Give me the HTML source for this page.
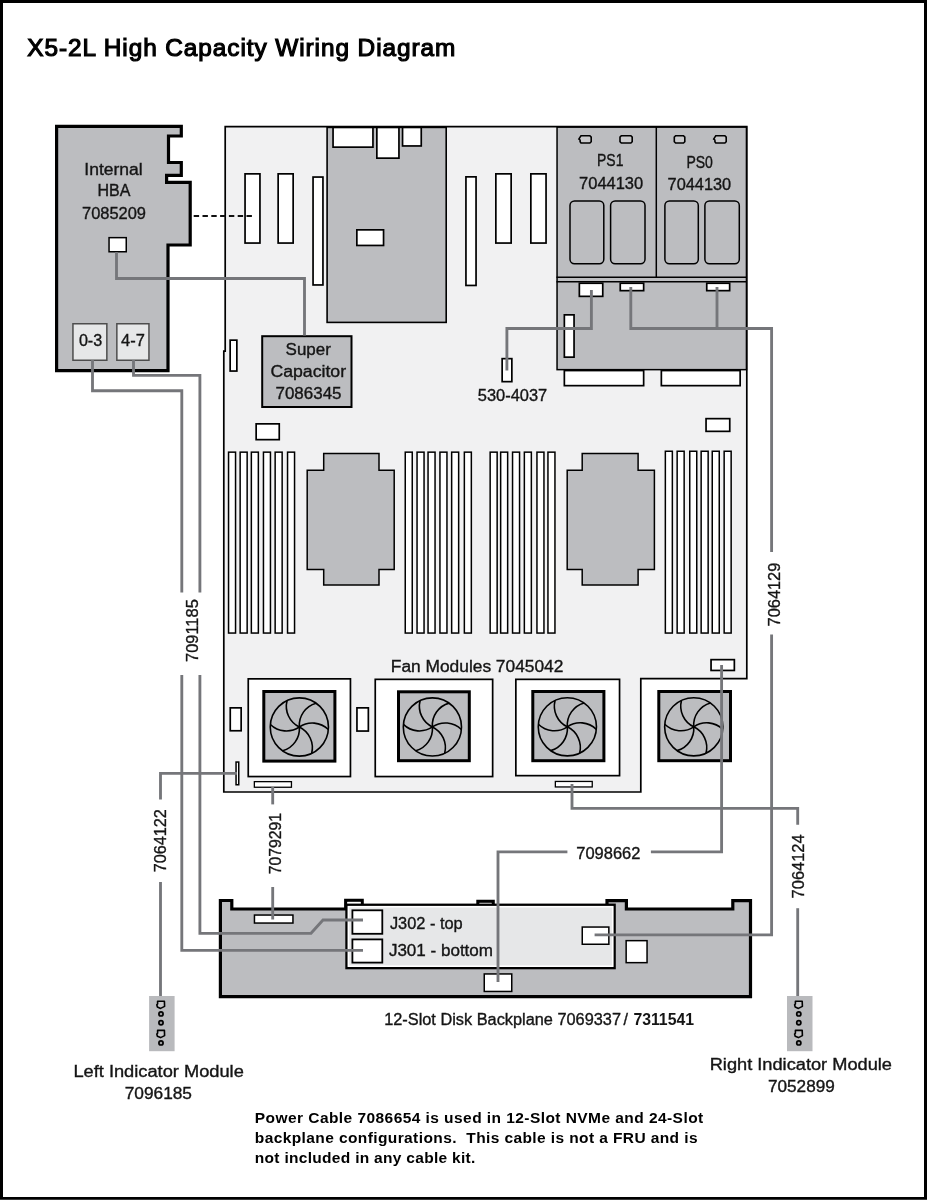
<!DOCTYPE html><html><head><meta charset="utf-8"><style>html,body{margin:0;padding:0;background:#fff}svg{display:block;will-change:transform}</style></head><body>
<svg width="927" height="1200" viewBox="0 0 927 1200" font-family='"Liberation Sans", sans-serif'>
<rect x="0" y="0" width="927" height="1200" fill="#fff"/>
<text x="27.3" y="55.6" font-size="24.4" font-weight="bold" text-anchor="start" fill="#000" textLength="428" lengthAdjust="spacing" style="font-weight:normal" stroke="#000" stroke-width="1.15">X5-2L High Capacity Wiring Diagram</text>
<polygon points="56.60,126.40 181.30,126.40 181.30,136.00 168.50,136.00 168.50,162.50 181.30,162.50 181.30,175.40 166.60,175.40 166.60,182.40 190.20,182.40 190.20,245.00 168.00,245.00 168.00,370.60 56.60,370.60" fill="#bcbdc0" stroke="#000" stroke-width="3.2" stroke-linejoin="miter"/>
<text x="84.3" y="174.6" font-size="16" font-weight="normal" text-anchor="start" fill="#151515" stroke="#151515" stroke-width="0.35" textLength="58.4" lengthAdjust="spacingAndGlyphs" >Internal</text>
<text x="113.9" y="195.9" font-size="16" font-weight="normal" text-anchor="middle" fill="#151515" stroke="#151515" stroke-width="0.35" >HBA</text>
<text x="82" y="218.9" font-size="16" font-weight="normal" text-anchor="start" fill="#151515" stroke="#151515" stroke-width="0.35" textLength="64" lengthAdjust="spacingAndGlyphs" >7085209</text>
<rect x="109.05" y="237.65" width="17.20" height="14.10" fill="#fff" stroke="#000" stroke-width="1.5" />
<rect x="72.95" y="323.75" width="33.90" height="36.50" fill="#e6e7e8" stroke="#4d4d4d" stroke-width="1.5" />
<rect x="116.85" y="323.75" width="32.10" height="36.50" fill="#e6e7e8" stroke="#4d4d4d" stroke-width="1.5" />
<text x="78.9" y="346" font-size="16" font-weight="normal" text-anchor="start" fill="#151515" stroke="#151515" stroke-width="0.35" textLength="23.3" lengthAdjust="spacingAndGlyphs" >0-3</text>
<text x="121.1" y="346" font-size="16" font-weight="normal" text-anchor="start" fill="#151515" stroke="#151515" stroke-width="0.35" textLength="23.8" lengthAdjust="spacingAndGlyphs" >4-7</text>
<polygon points="225.20,126.60 746.80,126.60 746.80,678.60 640.80,678.60 640.80,792.00 223.80,792.00 223.80,351.20 225.20,351.20" fill="#f1f1f2" stroke="#000" stroke-width="1.7" stroke-linejoin="miter"/>
<rect x="327.10" y="127.40" width="119.10" height="195.00" fill="#bcbdc0" stroke="#000" stroke-width="1.6" />
<rect x="333.05" y="127.45" width="39.90" height="19.70" fill="#fff" stroke="#000" stroke-width="1.7" />
<rect x="376.85" y="127.45" width="22.10" height="30.70" fill="#fff" stroke="#000" stroke-width="1.7" />
<rect x="402.55" y="127.45" width="18.70" height="18.50" fill="#fff" stroke="#000" stroke-width="1.7" />
<rect x="356.85" y="229.85" width="26.70" height="15.60" fill="#fff" stroke="#000" stroke-width="1.7" />
<rect x="245.05" y="173.85" width="14.90" height="69.20" fill="#fff" stroke="#000" stroke-width="1.7" />
<rect x="278.15" y="173.85" width="15.00" height="69.20" fill="#fff" stroke="#000" stroke-width="1.7" />
<rect x="313.05" y="177.05" width="9.90" height="107.90" fill="#fff" stroke="#000" stroke-width="1.7" />
<rect x="465.95" y="176.85" width="10.10" height="108.60" fill="#fff" stroke="#000" stroke-width="1.7" />
<rect x="495.85" y="173.85" width="15.30" height="69.20" fill="#fff" stroke="#000" stroke-width="1.7" />
<rect x="530.85" y="173.85" width="15.20" height="69.20" fill="#fff" stroke="#000" stroke-width="1.7" />
<line x1="193.7" y1="216" x2="252" y2="216" stroke="#111" stroke-width="1.9" stroke-dasharray="5.4,3.4"/>
<rect x="557.05" y="127.15" width="189.40" height="242.50" fill="#bcbdc0" stroke="#000" stroke-width="1.5" />
<line x1="656.3" y1="126.6" x2="656.3" y2="277.3" stroke="#000" stroke-width="1.5"/>
<line x1="556.5" y1="277.3" x2="747" y2="277.3" stroke="#000" stroke-width="1.5"/>
<line x1="556.5" y1="281.7" x2="747" y2="281.7" stroke="#000" stroke-width="1.5"/>
<path d="M581.00,135.80 L589.90,135.80 L591.20,137.10 L591.20,141.70 L589.90,143.00 L581.00,143.00 L580.10,141.70 L580.10,140.00 L578.90,139.00 L580.10,137.10 Z" fill="#c9c9cb" stroke="#000" stroke-width="1.6"/>
<path d="M621.30,135.80 L630.90,135.80 L632.20,137.10 L632.20,141.70 L630.90,143.00 L621.30,143.00 L620.00,141.70 L620.00,137.10 Z" fill="#c9c9cb" stroke="#000" stroke-width="1.6"/>
<path d="M675.60,135.80 L683.50,135.80 L684.80,137.10 L684.80,141.70 L683.50,143.00 L675.60,143.00 L674.30,141.70 L674.30,137.10 Z" fill="#c9c9cb" stroke="#000" stroke-width="1.6"/>
<path d="M715.80,135.80 L724.90,135.80 L726.20,137.10 L726.20,141.70 L724.90,143.00 L715.80,143.00 L714.90,141.70 L714.90,140.00 L713.70,139.00 L714.90,137.10 Z" fill="#c9c9cb" stroke="#000" stroke-width="1.6"/>
<rect x="570.00" y="200.9" width="33.80" height="62.8" rx="4.5" ry="4.5" fill="none" stroke="#000" stroke-width="1.5"/>
<rect x="610.60" y="200.9" width="34.40" height="62.8" rx="4.5" ry="4.5" fill="none" stroke="#000" stroke-width="1.5"/>
<rect x="664.90" y="200.9" width="33.40" height="62.8" rx="4.5" ry="4.5" fill="none" stroke="#000" stroke-width="1.5"/>
<rect x="704.90" y="200.9" width="34.40" height="62.8" rx="4.5" ry="4.5" fill="none" stroke="#000" stroke-width="1.5"/>
<text x="597" y="166.4" font-size="16" font-weight="normal" text-anchor="start" fill="#151515" stroke="#151515" stroke-width="0.35" textLength="26.4" lengthAdjust="spacingAndGlyphs" >PS1</text>
<text x="579.1" y="188.6" font-size="16" font-weight="normal" text-anchor="start" fill="#151515" stroke="#151515" stroke-width="0.35" textLength="64.1" lengthAdjust="spacingAndGlyphs" >7044130</text>
<text x="686.4" y="167.9" font-size="16" font-weight="normal" text-anchor="start" fill="#151515" stroke="#151515" stroke-width="0.35" textLength="26.5" lengthAdjust="spacingAndGlyphs" >PS0</text>
<text x="667.6" y="190.1" font-size="16" font-weight="normal" text-anchor="start" fill="#151515" stroke="#151515" stroke-width="0.35" textLength="63.6" lengthAdjust="spacingAndGlyphs" >7044130</text>
<rect x="579.35" y="283.25" width="23.40" height="13.10" fill="#fff" stroke="#000" stroke-width="1.7" />
<rect x="620.25" y="283.25" width="23.40" height="7.40" fill="#fff" stroke="#000" stroke-width="1.7" />
<rect x="706.75" y="283.25" width="22.90" height="7.40" fill="#fff" stroke="#000" stroke-width="1.7" />
<rect x="564.35" y="314.85" width="9.70" height="42.30" fill="#fff" stroke="#000" stroke-width="1.7" />
<rect x="564.35" y="370.55" width="79.30" height="15.10" fill="#fff" stroke="#000" stroke-width="1.7" />
<rect x="661.35" y="370.55" width="78.80" height="15.10" fill="#fff" stroke="#000" stroke-width="1.7" />
<rect x="502.15" y="358.65" width="9.70" height="23.00" fill="#fff" stroke="#000" stroke-width="1.7" />
<text x="477.8" y="400.7" font-size="16" font-weight="normal" text-anchor="start" fill="#151515" stroke="#151515" stroke-width="0.35" textLength="69.4" lengthAdjust="spacingAndGlyphs" >530-4037</text>
<rect x="230.15" y="340.15" width="6.70" height="30.90" fill="#fff" stroke="#000" stroke-width="1.7" />
<rect x="256.15" y="423.85" width="23.10" height="15.80" fill="#fff" stroke="#000" stroke-width="1.7" />
<rect x="706.05" y="418.65" width="23.70" height="12.70" fill="#fff" stroke="#000" stroke-width="1.7" />
<rect x="262.20" y="336.20" width="89.30" height="70.80" fill="#bcbdc0" stroke="#000" stroke-width="2" />
<text x="285.6" y="355.2" font-size="16" font-weight="normal" text-anchor="start" fill="#151515" stroke="#151515" stroke-width="0.35" textLength="45.3" lengthAdjust="spacingAndGlyphs" >Super</text>
<text x="270.4" y="376.8" font-size="16" font-weight="normal" text-anchor="start" fill="#151515" stroke="#151515" stroke-width="0.35" textLength="75.7" lengthAdjust="spacingAndGlyphs" >Capacitor</text>
<text x="275.5" y="398.9" font-size="16" font-weight="normal" text-anchor="start" fill="#151515" stroke="#151515" stroke-width="0.35" textLength="66" lengthAdjust="spacingAndGlyphs" >7086345</text>
<rect x="228.55" y="452.15" width="7.00" height="180.90" fill="#fff" stroke="#000" stroke-width="1.5" />
<rect x="240.15" y="452.15" width="7.00" height="180.90" fill="#fff" stroke="#000" stroke-width="1.5" />
<rect x="251.35" y="452.15" width="7.00" height="180.90" fill="#fff" stroke="#000" stroke-width="1.5" />
<rect x="263.45" y="452.15" width="7.00" height="180.90" fill="#fff" stroke="#000" stroke-width="1.5" />
<rect x="275.15" y="452.15" width="7.00" height="180.90" fill="#fff" stroke="#000" stroke-width="1.5" />
<rect x="287.55" y="452.15" width="7.00" height="180.90" fill="#fff" stroke="#000" stroke-width="1.5" />
<rect x="405.25" y="452.15" width="7.00" height="180.90" fill="#fff" stroke="#000" stroke-width="1.5" />
<rect x="417.05" y="452.15" width="7.00" height="180.90" fill="#fff" stroke="#000" stroke-width="1.5" />
<rect x="428.05" y="452.15" width="7.00" height="180.90" fill="#fff" stroke="#000" stroke-width="1.5" />
<rect x="439.95" y="452.15" width="7.00" height="180.90" fill="#fff" stroke="#000" stroke-width="1.5" />
<rect x="451.65" y="452.15" width="7.00" height="180.90" fill="#fff" stroke="#000" stroke-width="1.5" />
<rect x="464.35" y="452.15" width="7.00" height="180.90" fill="#fff" stroke="#000" stroke-width="1.5" />
<rect x="490.15" y="452.15" width="7.00" height="180.90" fill="#fff" stroke="#000" stroke-width="1.5" />
<rect x="500.65" y="452.15" width="7.00" height="180.90" fill="#fff" stroke="#000" stroke-width="1.5" />
<rect x="512.55" y="452.15" width="7.00" height="180.90" fill="#fff" stroke="#000" stroke-width="1.5" />
<rect x="524.35" y="452.15" width="7.00" height="180.90" fill="#fff" stroke="#000" stroke-width="1.5" />
<rect x="536.95" y="452.15" width="7.00" height="180.90" fill="#fff" stroke="#000" stroke-width="1.5" />
<rect x="547.95" y="452.15" width="7.00" height="180.90" fill="#fff" stroke="#000" stroke-width="1.5" />
<rect x="665.35" y="451.25" width="7.00" height="181.80" fill="#fff" stroke="#000" stroke-width="1.5" />
<rect x="677.15" y="451.25" width="7.00" height="181.80" fill="#fff" stroke="#000" stroke-width="1.5" />
<rect x="689.75" y="451.25" width="7.00" height="181.80" fill="#fff" stroke="#000" stroke-width="1.5" />
<rect x="701.15" y="451.25" width="7.00" height="181.80" fill="#fff" stroke="#000" stroke-width="1.5" />
<rect x="712.25" y="451.25" width="7.00" height="181.80" fill="#fff" stroke="#000" stroke-width="1.5" />
<rect x="724.15" y="451.25" width="7.00" height="181.80" fill="#fff" stroke="#000" stroke-width="1.5" />
<polygon points="323.70,453.60 379.00,453.60 379.00,470.20 394.20,470.20 394.20,569.60 379.00,569.60 379.00,585.10 323.70,585.10 323.70,569.60 307.20,569.60 307.20,470.20 323.70,470.20" fill="#bcbdc0" stroke="#000" stroke-width="1.5" stroke-linejoin="miter"/>
<polygon points="582.20,453.50 638.10,453.50 638.10,470.30 654.40,470.30 654.40,569.40 638.10,569.40 638.10,585.00 582.20,585.00 582.20,569.40 567.20,569.40 567.20,470.30 582.20,470.30" fill="#bcbdc0" stroke="#000" stroke-width="1.5" stroke-linejoin="miter"/>
<text x="390.8" y="671.6" font-size="16" font-weight="normal" text-anchor="start" fill="#151515" stroke="#151515" stroke-width="0.35" textLength="172.6" lengthAdjust="spacingAndGlyphs" >Fan Modules 7045042</text>
<rect x="248.25" y="678.85" width="102.20" height="97.70" fill="#fff" stroke="#000" stroke-width="1.7" />
<rect x="375.25" y="679.35" width="117.40" height="97.20" fill="#fff" stroke="#000" stroke-width="1.7" />
<rect x="515.85" y="679.35" width="103.70" height="96.30" fill="#fff" stroke="#000" stroke-width="1.7" />
<rect x="230.25" y="707.85" width="10.90" height="22.90" fill="#fff" stroke="#000" stroke-width="1.7" />
<rect x="356.95" y="707.85" width="11.40" height="23.20" fill="#fff" stroke="#000" stroke-width="1.7" />
<rect x="236.05" y="762.05" width="2.70" height="22.70" fill="#fff" stroke="#000" stroke-width="1.5" />
<rect x="254.35" y="781.65" width="37.10" height="5.60" fill="#fff" stroke="#000" stroke-width="1.3" />
<rect x="555.35" y="781.45" width="36.90" height="5.50" fill="#fff" stroke="#000" stroke-width="1.3" />
<rect x="711.05" y="659.65" width="23.30" height="10.80" fill="#fff" stroke="#000" stroke-width="1.7" />
<rect x="263.80" y="691.50" width="71.10" height="69.60" fill="#bcbdc0" stroke="#000" stroke-width="3" />
<circle cx="299.35" cy="727.00" r="29.1" fill="none" stroke="#000" stroke-width="1.6"/>
<path d="M299.35,727.00 A23,23 0 0 1 328.34,729.54" fill="none" stroke="#000" stroke-width="1.6"/>
<path d="M299.35,727.00 A23,23 0 0 1 311.65,753.37" fill="none" stroke="#000" stroke-width="1.6"/>
<path d="M299.35,727.00 A23,23 0 0 1 282.66,750.84" fill="none" stroke="#000" stroke-width="1.6"/>
<path d="M299.35,727.00 A23,23 0 0 1 270.36,724.46" fill="none" stroke="#000" stroke-width="1.6"/>
<path d="M299.35,727.00 A23,23 0 0 1 287.05,700.63" fill="none" stroke="#000" stroke-width="1.6"/>
<path d="M299.35,727.00 A23,23 0 0 1 316.04,703.16" fill="none" stroke="#000" stroke-width="1.6"/>
<rect x="398.50" y="691.80" width="70.80" height="68.90" fill="#bcbdc0" stroke="#000" stroke-width="3" />
<circle cx="432.40" cy="726.95" r="29.1" fill="none" stroke="#000" stroke-width="1.6"/>
<path d="M432.40,726.95 A23,23 0 0 1 461.39,729.49" fill="none" stroke="#000" stroke-width="1.6"/>
<path d="M432.40,726.95 A23,23 0 0 1 444.70,753.32" fill="none" stroke="#000" stroke-width="1.6"/>
<path d="M432.40,726.95 A23,23 0 0 1 415.71,750.79" fill="none" stroke="#000" stroke-width="1.6"/>
<path d="M432.40,726.95 A23,23 0 0 1 403.41,724.41" fill="none" stroke="#000" stroke-width="1.6"/>
<path d="M432.40,726.95 A23,23 0 0 1 420.10,700.58" fill="none" stroke="#000" stroke-width="1.6"/>
<path d="M432.40,726.95 A23,23 0 0 1 449.09,703.11" fill="none" stroke="#000" stroke-width="1.6"/>
<rect x="532.80" y="691.50" width="71.10" height="69.20" fill="#bcbdc0" stroke="#000" stroke-width="3" />
<circle cx="567.35" cy="726.80" r="29.1" fill="none" stroke="#000" stroke-width="1.6"/>
<path d="M567.35,726.80 A23,23 0 0 1 596.34,729.34" fill="none" stroke="#000" stroke-width="1.6"/>
<path d="M567.35,726.80 A23,23 0 0 1 579.65,753.17" fill="none" stroke="#000" stroke-width="1.6"/>
<path d="M567.35,726.80 A23,23 0 0 1 550.66,750.64" fill="none" stroke="#000" stroke-width="1.6"/>
<path d="M567.35,726.80 A23,23 0 0 1 538.36,724.26" fill="none" stroke="#000" stroke-width="1.6"/>
<path d="M567.35,726.80 A23,23 0 0 1 555.05,700.43" fill="none" stroke="#000" stroke-width="1.6"/>
<path d="M567.35,726.80 A23,23 0 0 1 584.04,702.96" fill="none" stroke="#000" stroke-width="1.6"/>
<rect x="658.80" y="691.50" width="71.70" height="69.20" fill="#bcbdc0" stroke="#000" stroke-width="3" />
<circle cx="693.75" cy="726.80" r="29.1" fill="none" stroke="#000" stroke-width="1.6"/>
<path d="M693.75,726.80 A23,23 0 0 1 722.74,729.34" fill="none" stroke="#000" stroke-width="1.6"/>
<path d="M693.75,726.80 A23,23 0 0 1 706.05,753.17" fill="none" stroke="#000" stroke-width="1.6"/>
<path d="M693.75,726.80 A23,23 0 0 1 677.06,750.64" fill="none" stroke="#000" stroke-width="1.6"/>
<path d="M693.75,726.80 A23,23 0 0 1 664.76,724.26" fill="none" stroke="#000" stroke-width="1.6"/>
<path d="M693.75,726.80 A23,23 0 0 1 681.45,700.43" fill="none" stroke="#000" stroke-width="1.6"/>
<path d="M693.75,726.80 A23,23 0 0 1 710.44,702.96" fill="none" stroke="#000" stroke-width="1.6"/>
<polygon points="220.40,996.60 220.40,900.50 231.80,900.50 231.80,909.00 345.70,909.00 345.70,900.30 362.20,900.30 362.20,909.00 477.90,909.00 477.90,901.30 493.20,901.30 493.20,909.00 607.00,909.00 607.00,900.60 626.40,900.60 626.40,909.00 732.80,909.00 732.80,900.60 750.50,900.60 750.50,996.60" fill="#bcbdc0" stroke="#000" stroke-width="3.2" stroke-linejoin="miter"/>
<rect x="347.3" y="901.8" width="13.4" height="3" fill="#fff"/>
<rect x="479.5" y="902.8" width="12.1" height="2" fill="#fff"/>
<rect x="346.60" y="904.90" width="267.90" height="63.10" fill="#e6e7e8" stroke="#000" stroke-width="2.6" />
<rect x="348.4" y="906.7" width="264.3" height="59.5" fill="none" stroke="#fff" stroke-width="1.6"/>
<rect x="352.40" y="910.30" width="29.90" height="23.50" fill="#fff" stroke="#000" stroke-width="1.8" />
<rect x="352.40" y="939.40" width="29.90" height="23.20" fill="#fff" stroke="#000" stroke-width="1.8" />
<text x="389.9" y="929.4" font-size="16" font-weight="normal" text-anchor="start" fill="#151515" stroke="#151515" stroke-width="0.35" textLength="72.8" lengthAdjust="spacingAndGlyphs" >J302 - top</text>
<text x="388.9" y="956" font-size="16" font-weight="normal" text-anchor="start" fill="#151515" stroke="#151515" stroke-width="0.35" textLength="104.1" lengthAdjust="spacingAndGlyphs" >J301 - bottom</text>
<rect x="582.25" y="927.05" width="26.60" height="17.20" fill="#fff" stroke="#000" stroke-width="1.5" />
<rect x="626.15" y="940.65" width="20.90" height="22.00" fill="#fff" stroke="#000" stroke-width="1.5" />
<rect x="484.25" y="973.95" width="27.50" height="17.50" fill="#fff" stroke="#000" stroke-width="1.5" />
<rect x="254.45" y="915.05" width="38.50" height="8.00" fill="#fff" stroke="#000" stroke-width="1.5" />
<polyline points="116.50,252.00 116.50,278.50 304.50,278.50 304.50,335.50" fill="none" stroke="#75767a" stroke-width="2.85" stroke-linejoin="miter" stroke-linecap="butt"/>
<polyline points="92.50,360.00 92.50,390.70 181.80,390.70 181.80,592.60" fill="none" stroke="#75767a" stroke-width="2.85" stroke-linejoin="miter" stroke-linecap="butt"/>
<polyline points="181.80,675.10 181.80,950.30 363.00,950.30" fill="none" stroke="#75767a" stroke-width="2.85" stroke-linejoin="miter" stroke-linecap="butt"/>
<polyline points="133.50,360.00 133.50,375.40 199.90,375.40 199.90,592.60" fill="none" stroke="#75767a" stroke-width="2.85" stroke-linejoin="miter" stroke-linecap="butt"/>
<polyline points="199.90,675.10 199.90,933.30 311.00,933.30 323.00,920.00 363.00,920.00" fill="none" stroke="#75767a" stroke-width="2.85" stroke-linejoin="miter" stroke-linecap="butt"/>
<polyline points="237.00,773.30 160.50,773.30 160.50,799.50" fill="none" stroke="#75767a" stroke-width="2.85" stroke-linejoin="miter" stroke-linecap="butt"/>
<polyline points="160.50,882.00 160.50,996.00" fill="none" stroke="#75767a" stroke-width="2.85" stroke-linejoin="miter" stroke-linecap="butt"/>
<polyline points="272.70,787.00 272.70,804.40" fill="none" stroke="#75767a" stroke-width="2.85" stroke-linejoin="miter" stroke-linecap="butt"/>
<polyline points="272.70,887.00 272.70,919.50" fill="none" stroke="#75767a" stroke-width="2.85" stroke-linejoin="miter" stroke-linecap="butt"/>
<polyline points="591.40,290.00 591.40,328.50 506.90,328.50 506.90,370.40" fill="none" stroke="#75767a" stroke-width="2.85" stroke-linejoin="miter" stroke-linecap="butt"/>
<polyline points="630.80,287.00 630.80,328.50 771.60,328.50 771.60,552.00" fill="none" stroke="#75767a" stroke-width="2.85" stroke-linejoin="miter" stroke-linecap="butt"/>
<polyline points="717.00,287.00 717.00,328.50" fill="none" stroke="#75767a" stroke-width="2.85" stroke-linejoin="miter" stroke-linecap="butt"/>
<polyline points="771.60,634.40 771.60,934.90 594.60,934.90" fill="none" stroke="#75767a" stroke-width="2.85" stroke-linejoin="miter" stroke-linecap="butt"/>
<polyline points="721.60,665.00 721.60,851.80 650.90,851.80" fill="none" stroke="#75767a" stroke-width="2.85" stroke-linejoin="miter" stroke-linecap="butt"/>
<polyline points="567.40,851.80 498.00,851.80 498.00,982.00" fill="none" stroke="#75767a" stroke-width="2.85" stroke-linejoin="miter" stroke-linecap="butt"/>
<polyline points="572.00,784.00 572.00,808.30 797.70,808.30 797.70,824.70" fill="none" stroke="#75767a" stroke-width="2.85" stroke-linejoin="miter" stroke-linecap="butt"/>
<polyline points="797.70,908.20 797.70,996.00" fill="none" stroke="#75767a" stroke-width="2.85" stroke-linejoin="miter" stroke-linecap="butt"/>
<text transform="translate(198.1,662) rotate(-90)" font-size="16" fill="#151515" stroke="#151515" stroke-width="0.35" textLength="62.8" lengthAdjust="spacingAndGlyphs">7091185</text>
<text transform="translate(780.3,626.4) rotate(-90)" font-size="16" fill="#151515" stroke="#151515" stroke-width="0.35" textLength="63.7" lengthAdjust="spacingAndGlyphs">7064129</text>
<text transform="translate(165.9,872.3) rotate(-90)" font-size="16" fill="#151515" stroke="#151515" stroke-width="0.35" textLength="63.1" lengthAdjust="spacingAndGlyphs">7064122</text>
<text transform="translate(280.5,874.3) rotate(-90)" font-size="16" fill="#151515" stroke="#151515" stroke-width="0.35" textLength="61.2" lengthAdjust="spacingAndGlyphs">7079291</text>
<text transform="translate(803.5,898.4) rotate(-90)" font-size="16" fill="#151515" stroke="#151515" stroke-width="0.35" textLength="64" lengthAdjust="spacingAndGlyphs">7064124</text>
<text x="576.3" y="858.5" font-size="16" font-weight="normal" text-anchor="start" fill="#151515" stroke="#151515" stroke-width="0.35" textLength="64.1" lengthAdjust="spacingAndGlyphs" >7098662</text>
<rect x="149.1" y="996" width="25.5" height="55.2" fill="#b9babd"/>
<path d="M157.60,1001.20 L164.40,1001.20 L164.60,1006.40 L160.60,1008.40 L157.40,1007.00 L156.80,1004.80 L157.60,1004.00 Z" fill="#c4c4c6" stroke="#000" stroke-width="1.6" stroke-linejoin="round"/>
<circle cx="161.00" cy="1013.9" r="2.1" fill="#9a9a9c" stroke="#000" stroke-width="1.7"/>
<circle cx="161.00" cy="1022.8" r="2.1" fill="#9a9a9c" stroke="#000" stroke-width="1.7"/>
<path d="M157.60,1030.40 L164.40,1030.40 L164.60,1035.60 L160.60,1037.60 L157.40,1036.20 L156.80,1034.00 L157.60,1033.20 Z" fill="#c4c4c6" stroke="#000" stroke-width="1.6" stroke-linejoin="round"/>
<circle cx="161.00" cy="1042.9" r="2.1" fill="#9a9a9c" stroke="#000" stroke-width="1.7"/>
<rect x="787" y="996" width="25.5" height="55.2" fill="#b9babd"/>
<path d="M795.40,1001.20 L802.20,1001.20 L802.40,1006.40 L798.40,1008.40 L795.20,1007.00 L794.60,1004.80 L795.40,1004.00 Z" fill="#c4c4c6" stroke="#000" stroke-width="1.6" stroke-linejoin="round"/>
<circle cx="798.80" cy="1013.9" r="2.1" fill="#9a9a9c" stroke="#000" stroke-width="1.7"/>
<circle cx="798.80" cy="1022.8" r="2.1" fill="#9a9a9c" stroke="#000" stroke-width="1.7"/>
<path d="M795.40,1030.40 L802.20,1030.40 L802.40,1035.60 L798.40,1037.60 L795.20,1036.20 L794.60,1034.00 L795.40,1033.20 Z" fill="#c4c4c6" stroke="#000" stroke-width="1.6" stroke-linejoin="round"/>
<circle cx="798.80" cy="1042.9" r="2.1" fill="#9a9a9c" stroke="#000" stroke-width="1.7"/>
<text x="73.4" y="1077.1" font-size="16" font-weight="normal" text-anchor="start" fill="#151515" stroke="#151515" stroke-width="0.35" textLength="170.4" lengthAdjust="spacingAndGlyphs" >Left Indicator Module</text>
<text x="124.7" y="1098.7" font-size="16" font-weight="normal" text-anchor="start" fill="#151515" stroke="#151515" stroke-width="0.35" textLength="67.3" lengthAdjust="spacingAndGlyphs" >7096185</text>
<text x="709.7" y="1070.2" font-size="16" font-weight="normal" text-anchor="start" fill="#151515" stroke="#151515" stroke-width="0.35" textLength="182.3" lengthAdjust="spacingAndGlyphs" >Right Indicator Module</text>
<text x="768" y="1092.2" font-size="16" font-weight="normal" text-anchor="start" fill="#151515" stroke="#151515" stroke-width="0.35" textLength="66.8" lengthAdjust="spacingAndGlyphs" >7052899</text>
<text x="384.2" y="1024.6" font-size="16" font-weight="normal" text-anchor="start" fill="#151515" stroke="#151515" stroke-width="0.35" textLength="236.8" lengthAdjust="spacingAndGlyphs" >12-Slot Disk Backplane 7069337</text>
<text x="623.5" y="1024.6" font-size="16" font-weight="normal" text-anchor="start" fill="#151515" stroke="#151515" stroke-width="0.35" >/</text>
<text x="633.4" y="1024.6" font-size="16" font-weight="bold" text-anchor="start" fill="#151515" textLength="60.6" lengthAdjust="spacingAndGlyphs" >7311541</text>
<text x="254.8" y="1123.3" font-size="15.5" font-weight="bold" text-anchor="start" fill="#000" textLength="448.4" lengthAdjust="spacing" >Power Cable 7086654 is used in 12-Slot NVMe and 24-Slot</text>
<text x="254.8" y="1142.7" font-size="15.5" font-weight="bold" text-anchor="start" fill="#000" textLength="442.7" lengthAdjust="spacing" >backplane configurations.&#160; This cable is not a FRU and is</text>
<text x="254.8" y="1162.9" font-size="15.5" font-weight="bold" text-anchor="start" fill="#000" textLength="220.6" lengthAdjust="spacing" >not included in any cable kit.</text>
<rect x="1.5" y="1.5" width="924" height="1197" fill="none" stroke="#000" stroke-width="3"/>
<rect x="0" y="1199" width="927" height="1" fill="#3a3a3a"/>
</svg></body></html>
